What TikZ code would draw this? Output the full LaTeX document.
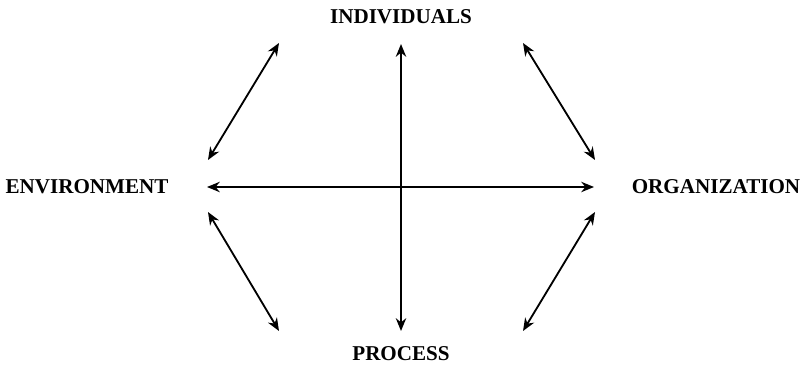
\documentclass[tikz,border=0pt]{standalone}
\usepackage{fontspec}
\setmainfont{Liberation Serif}
\usetikzlibrary{arrows.meta}

\begin{document}
\begin{tikzpicture}[
  x=0.025cm, y=-0.025cm,
  font=\fontsize{15}{18}\selectfont\bfseries,
  label/.style={inner sep=0pt},
  link/.style={{Stealth[length=3.2mm,width=2.6mm]}-{Stealth[length=3.2mm,width=2.6mm]}, line width=1.3pt}
]
\useasboundingbox (0,0) rectangle (800,366);

% the four labels
\node[label] (ind) at (401,17) {INDIVIDUALS};
\node[label] (env) at (87,187) {ENVIRONMENT};
\node[label] (org) at (716,187) {ORGANIZATION};
\node[label] (pro) at (401,354) {PROCESS};

% arrow ends
\coordinate (top) at (401,44);
\coordinate (bot) at (401,331);
\coordinate (lft) at (207,187);
\coordinate (rgt) at (594,187);
\coordinate (tl) at (279,43);
\coordinate (tr) at (523,43);
\coordinate (bl) at (279,331);
\coordinate (br) at (523,331);
\coordinate (ul) at (208,160);
\coordinate (ur) at (595,160);
\coordinate (ll) at (208,212);
\coordinate (lr) at (595,212);

% cross
\draw[link] (top) -- (bot);
\draw[link] (lft) -- (rgt);

% diagonals
\draw[link] (ul) -- (tl);
\draw[link] (tr) -- (ur);
\draw[link] (ll) -- (bl);
\draw[link] (br) -- (lr);

\end{tikzpicture}
\end{document}
